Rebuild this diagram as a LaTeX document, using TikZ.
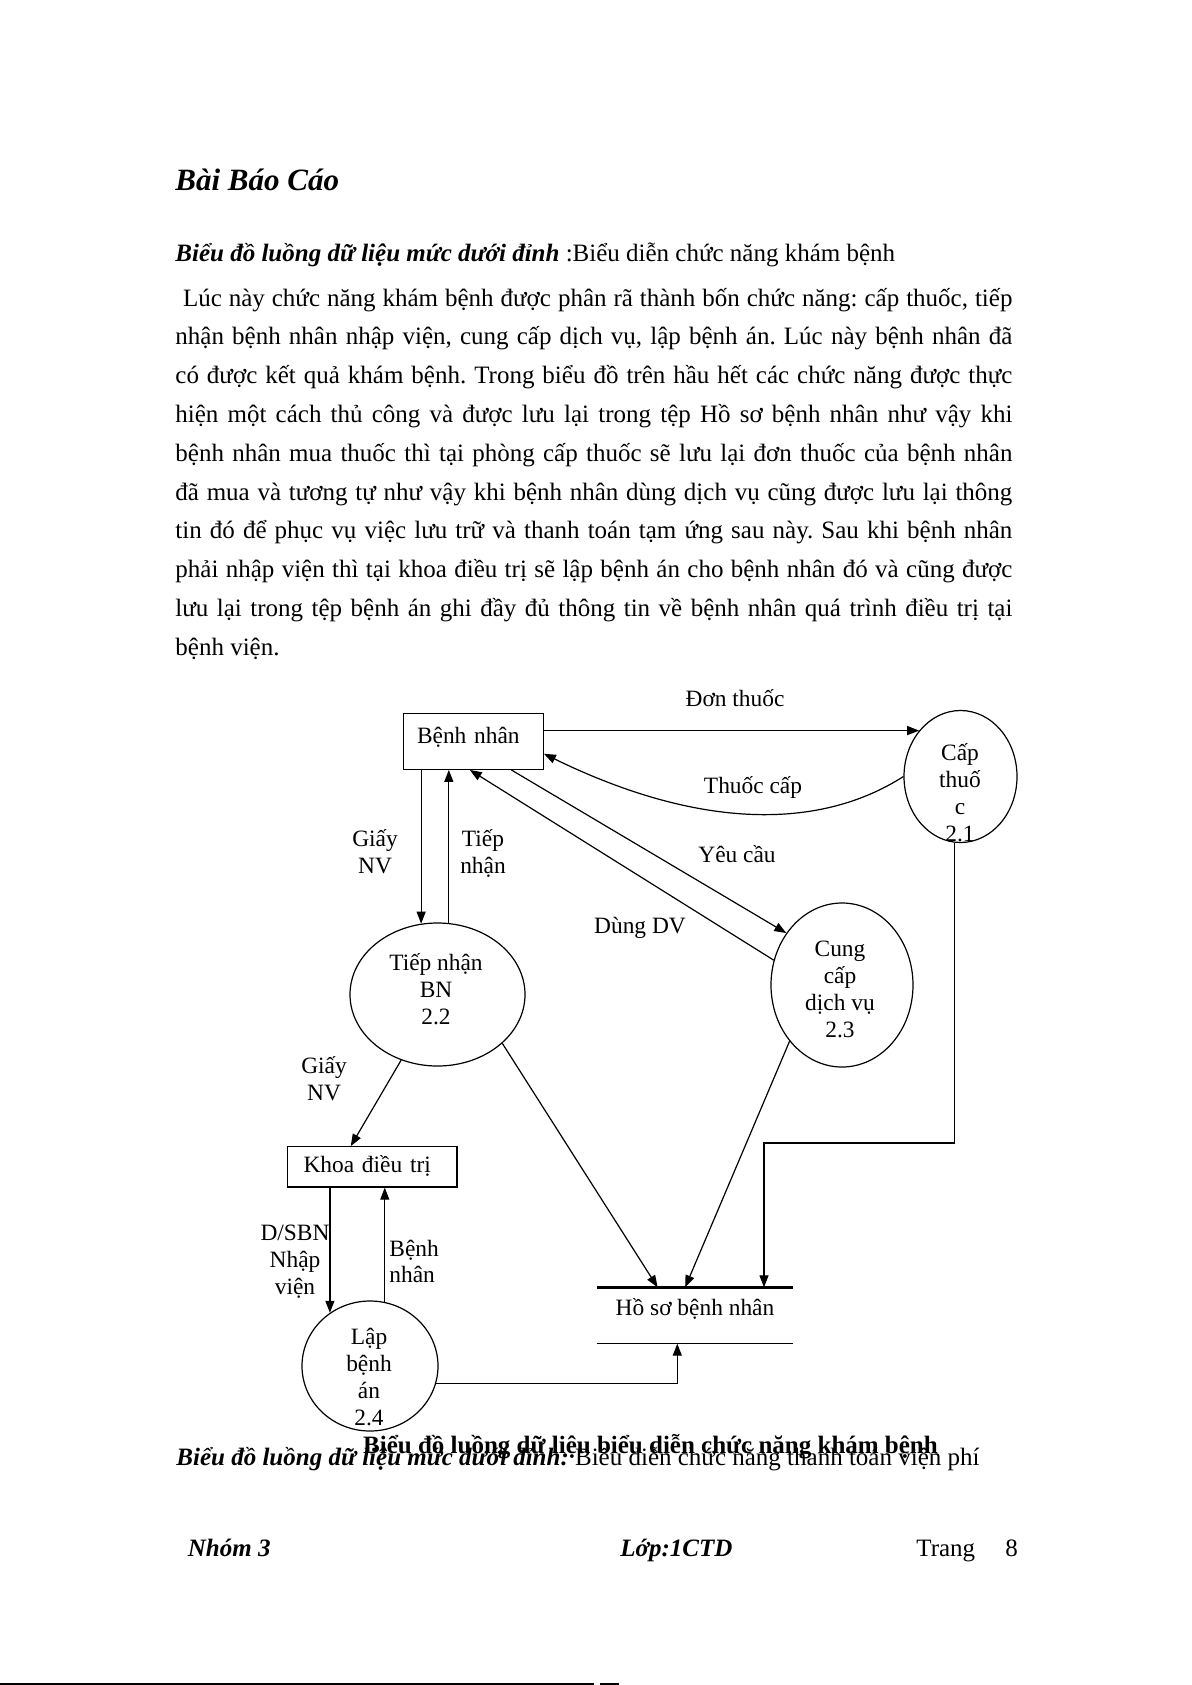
\documentclass[tikz,border=0pt]{standalone}
\usepackage{fontspec}
\setmainfont{Liberation Serif}
\usetikzlibrary{arrows.meta,calc,shapes.geometric}
\frenchspacing

\newcommand{\bodyfont}{\fontsize{12.5pt}{19.4pt}\selectfont}
\newcommand{\dfdfont}{\fontsize{11.7pt}{13.35pt}\selectfont}
\newcommand{\jline}[1]{\hbox to 418.5pt{#1}}

\begin{document}
\begin{tikzpicture}[x=0.5pt,y=-0.5pt,>={Triangle[length=6pt,width=4.5pt]},
  every node/.style={inner sep=0pt},
  txt/.style={font=\bodyfont},
  lbl/.style={font=\dfdfont,align=center,anchor=base},
  entity/.style={draw,line width=0.6pt,font=\dfdfont,align=left,inner ysep=0pt},
  store/.style={font=\dfdfont,inner sep=0pt},
  proc/.style={draw,ellipse,line width=0.6pt,inner sep=0pt},
  flow/.style={->,line width=0.6pt}]
  \path[use as bounding box,fill=white] (0,0) rectangle (1191,1685);

  % page text
  \node[anchor=base west,font=\fontsize{15.5pt}{18pt}\selectfont\bfseries\itshape] (title) at (175,190.7) {Bài Báo Cáo};
  \node[txt,anchor=base west] (sub) at (175,262) {\textbf{\textit{Biểu đồ luồng dữ liệu mức dưới đỉnh}} :Biểu diễn chức năng khám bệnh};
  \node[txt,anchor=base west] (para) at (175,306) {\vtop{%
    \jline{\kern3.8pt Lúc này chức năng khám bệnh được phân rã thành bốn chức năng: cấp thuốc, tiếp}
    \jline{nhận bệnh nhân nhập viện, cung cấp dịch vụ, lập bệnh án. Lúc này bệnh nhân đã}
    \jline{có được kết quả khám bệnh. Trong biểu đồ trên hầu hết các chức năng được thực}
    \jline{hiện một cách thủ công và được lưu lại trong tệp Hồ sơ bệnh nhân như vậy khi}
    \jline{bệnh nhân mua thuốc thì tại phòng cấp thuốc sẽ lưu lại đơn thuốc của bệnh nhân}
    \jline{đã mua và tương tự như vậy khi bệnh nhân dùng dịch vụ cũng được lưu lại thông}
    \jline{tin đó để phục vụ việc lưu trữ và thanh toán tạm ứng sau này. Sau khi bệnh nhân}
    \jline{phải nhập viện thì tại khoa điều trị sẽ lập bệnh án cho bệnh nhân đó và cũng được}
    \jline{lưu lại trong tệp bệnh án ghi đầy đủ thông tin về bệnh nhân quá trình điều trị tại}
    \hbox{bệnh viện.}}};

  % entities, store and processes
  \node[entity,text width=56.3pt,inner xsep=6.85pt,text height=14.85pt,text depth=13.15pt] (bn) at (473.3,741.3) {Bệnh nhân};
  \node[entity,text width=68.75pt,inner xsep=8pt,text height=13pt,text depth=7.15pt] (kd) at (372.25,1166.85) {Khoa điều trị};
  \node[store,minimum width=98pt,text height=13.65pt,text depth=14.15pt] (hs) at (695,1315.5) {Hồ sơ bệnh nhân};
  \draw[line width=1.2pt] (hs.north west) -- (hs.north east);
  \draw[line width=0.5pt] (hs.south west) -- (hs.south east);

  \node[proc,minimum width=56.5pt,minimum height=66pt] (cap) at (960.5,776.5) {};
  \node[proc,minimum width=71pt,minimum height=82pt] (cc) at (842,985) {};
  \node[proc,minimum width=87.5pt,minimum height=71.5pt] (tn) at (437.5,994.5) {};
  \node[proc,minimum width=68pt,minimum height=65pt] (lap) at (370,1366) {};
  % multi-line labels sit on their last baseline
  \node[lbl] (cap-t) at (960,841) {Cấp\\thuố\\c\\2.1};
  \node[lbl] (cc-t) at (840,1037) {Cung\\cấp\\dịch vụ\\2.3};
  \node[lbl] (tn-t) at (436,1024) {Tiếp nhận\\BN\\2.2};
  \node[lbl] (lap-t) at (369,1425) {Lập\\bệnh\\án\\2.4};

  % flows
  \draw[flow] (bn.east |- cap.132) -- (cap.132);
  \node[lbl] (l-don) at (735,706) {Đơn thuốc};
  \draw[flow] (cap.west) .. controls (820,830) and (700,830) .. (bn.-10);
  \node[lbl] (l-thuoc) at (753,793) {Thuốc cấp};
  \draw[flow] (bn.-37.5) -- (cc.137);
  \node[lbl] (l-yc) at (737,862.7) {Yêu cầu};
  \draw[flow] (cc.160) -- (bn.-97);
  \node[lbl] (l-dung) at (640,933) {Dùng DV};

  \draw[flow] (bn.south -| tn.103) -- (tn.103);
  \draw[flow] (tn.81) -- (bn.south -| tn.81);
  \node[lbl] (l-giay1) at (375,873) {Giấy\\NV};
  \node[lbl] (l-tiep) at (483,873) {Tiếp\\nhận};

  \draw[flow] (tn.241) -- (kd.136);
  \node[lbl] (l-giay2) at (324,1100) {Giấy\\NV};
  \draw[flow] (kd.south -| lap.127) -- (lap.127);
  \draw[flow] (lap.77) -- (kd.south -| lap.77);
  \node[lbl] (l-dsbn) at (295,1294) {D/SBN\\Nhập\\viện};
  \node[lbl,align=left,anchor=base west] (l-benh) at (389,1282.7) {Bệnh\\nhân};

  \draw[flow] (tn.-37) -- ($(hs.north west)!0.31!(hs.north east)$);
  \draw[flow] (cc.227) -- ($(hs.north west)!0.45!(hs.north east)$);
  \coordinate (bend) at (764,1143);
  \draw[flow] (cap.265) |- (bend) -- (bend |- hs.north);
  \draw[flow] (lap.-15) -| ($(hs.south west)!0.41!(hs.south east)$);

  % caption, next heading, footer
  \node[txt,anchor=base,font=\bodyfont\bfseries] (caption) at (650.5,1453) {Biểu đồ luồng dữ liệu biểu diễn chức năng khám bệnh};
  \node[txt,anchor=base west] (next) at (176,1465) {\textbf{\textit{Biểu đồ luồng dữ liệu mức dưới đỉnh:}} Biểu diễn chức năng thanh toán viện phí};
  \node[txt,anchor=base west] (nhom) at (187.5,1556.7) {\textbf{\textit{Nhóm 3}}};
  \node[txt,anchor=base west] (lop) at (620,1556.7) {\textbf{\textit{Lớp:1CTD}}};
  \node[txt,anchor=base west] (trang) at (916,1556.7) {Trang};
  \node[txt,anchor=base west] (so) at (1005,1556.7) {8};

  \draw[line width=0.8pt] (0,1684) -- (594,1684);
  \draw[line width=0.8pt] (600,1684) -- (619,1684);
\end{tikzpicture}
\end{document}
